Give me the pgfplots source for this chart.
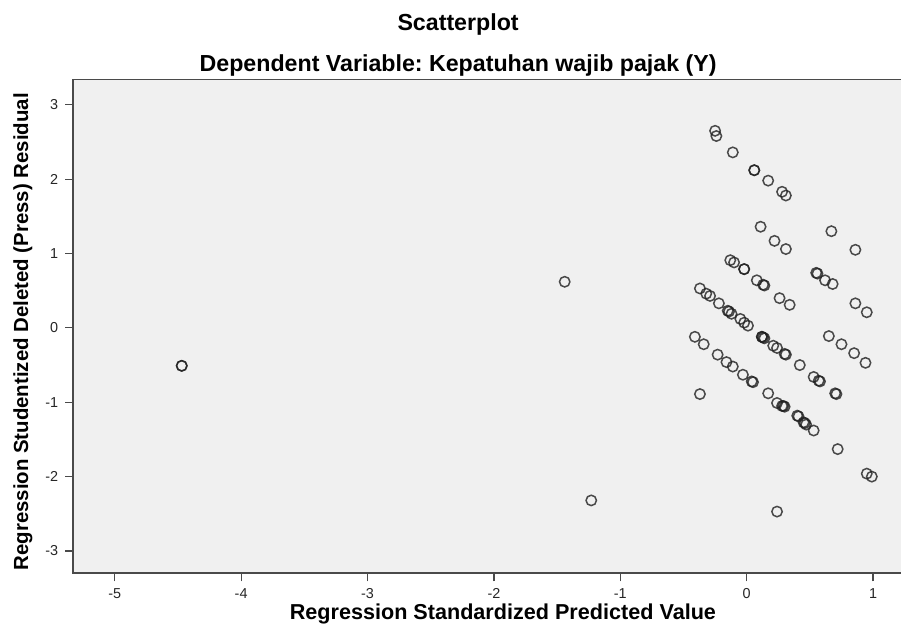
\documentclass[border=0pt]{standalone}
\usepackage{pgfplots}
\pgfplotsset{compat=1.18}
\usepackage{fontspec}
\setmainfont{Liberation Sans}
\frenchspacing
\definecolor{bgc}{HTML}{F0F0F0}
\definecolor{framec}{HTML}{4A4A4A}
\definecolor{markc}{HTML}{202020}
\pgfplotstableread{
x y
-4.47 -0.51
-4.47 -0.51
-1.44 0.62
-1.23 -2.32
-0.25 2.65
-0.24 2.58
-0.11 2.36
0.06 2.12
0.06 2.12
0.17 1.98
0.28 1.83
0.31 1.78
0.11 1.36
0.22 1.17
0.31 1.06
0.67 1.30
0.86 1.05
-0.13 0.91
-0.10 0.88
-0.02 0.79
-0.02 0.79
0.08 0.64
0.13 0.58
0.14 0.57
0.26 0.40
0.34 0.31
0.55 0.74
0.56 0.73
0.62 0.64
0.68 0.59
0.86 0.33
0.95 0.21
-0.37 0.53
-0.32 0.46
-0.29 0.43
-0.22 0.33
-0.15 0.23
-0.14 0.22
-0.12 0.19
-0.05 0.12
-0.02 0.07
0.01 0.03
0.12 -0.12
0.12 -0.12
0.13 -0.13
0.14 -0.14
0.21 -0.24
0.24 -0.27
0.30 -0.35
0.31 -0.36
0.42 -0.50
0.53 -0.66
0.57 -0.71
0.58 -0.72
0.70 -0.88
0.71 -0.89
0.65 -0.11
0.75 -0.22
0.85 -0.34
0.94 -0.47
-0.41 -0.12
-0.34 -0.22
-0.23 -0.36
-0.16 -0.46
-0.11 -0.52
-0.03 -0.63
0.04 -0.72
0.05 -0.73
-0.37 -0.89
0.17 -0.88
0.24 -1.01
0.28 -1.05
0.29 -1.05
0.30 -1.06
0.40 -1.18
0.41 -1.19
0.45 -1.27
0.46 -1.28
0.47 -1.30
0.53 -1.38
0.72 -1.63
0.95 -1.96
0.99 -2.00
0.24 -2.47
}\resdata
\begin{document}
\begin{tikzpicture}
\useasboundingbox (-36.65pt,-29.35pt) rectangle (413.85pt,286.65pt);
\begin{axis}[
  at={(0,0)}, anchor=south west,
  scale only axis,
  width=429.6pt, height=246.9pt,
  xmin=-5.328, xmax=1.47,
  ymin=-3.30, ymax=3.34,
  axis background/.style={fill=bgc},
  axis line style={draw=framec, line width=0.8pt},
  xtick={-5,-4,-3,-2,-1,0,1},
  ytick={-3,-2,-1,0,1,2,3},
  tick align=outside,
  major tick length=4pt,
  tick style={draw=framec, line width=0.6pt},
  xtick pos=bottom, ytick pos=left,
  /pgf/number format/assume math mode=true,
  ticklabel style={font=\fontsize{7.2}{8}\selectfont, text=black!85},
  xlabel={Regression Standardized Predicted Value},
  ylabel={Regression Studentized Deleted (Press) Residual},
  xlabel style={font=\bfseries\fontsize{10.8}{12}\selectfont, at={(rel axis cs:0.5,0)}, anchor=center, yshift=-20.5pt},
  ylabel style={font=\bfseries\fontsize{10.2}{12}\selectfont, at={(rel axis cs:0,0.489)}, anchor=center, yshift=25.2pt},
]
\addplot[only marks, mark=o, mark size=2.6pt,
  mark options={draw=markc, draw opacity=0.8, line width=0.75pt}]
  table[x=x, y=y] {\resdata};
\end{axis}
\node[font=\bfseries\fontsize{11.6}{13}\selectfont] at (192.4pt,274.6pt) {Scatterplot};
\node[font=\bfseries\fontsize{11.6}{13}\selectfont] at (192.4pt,254.1pt) {Dependent Variable: Kepatuhan wajib pajak (Y)};
\end{tikzpicture}
\end{document}
